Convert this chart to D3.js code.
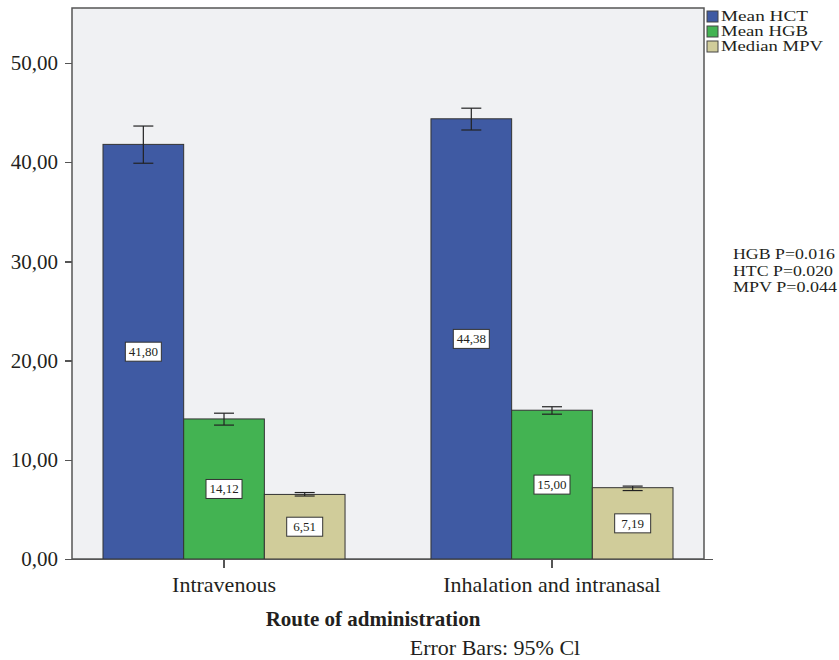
<!DOCTYPE html>
<html>
<head>
<meta charset="utf-8">
<title></title>
<script src="https://cdn.jsdelivr.net/npm/d3@7"></script>
<style>
  body { margin: 0; background: #fff; }
  svg text { font-family: "Liberation Serif", "DejaVu Serif", serif; fill: #231f20; }
  .axis path, .axis line { stroke: #555; shape-rendering: crispEdges; }
</style>
</head>
<body>
<script>
// data
var routes = ["Intravenous", "Inhalation and intranasal"];
var series = ["Mean HCT", "Mean HGB", "Median MPV"];
var colors = ["#3f5aa3", "#43b352", "#d0cc9a"];
var values = [[41.80, 14.12, 6.51], [44.38, 15.00, 7.19]];
var errLow = [[39.9, 13.5, 6.35], [43.25, 14.6, 6.9]];
var errHigh = [[43.65, 14.7, 6.7], [45.45, 15.35, 7.35]];
var yTicks = [0, 10, 20, 30, 40, 50];
var pNotes = ["HGB P=0.016", "HTC P=0.020", "MPV P=0.044"];

var width = 839, height = 660;
var plot = {left: 72, right: 704, top: 8, bottom: 559};
var serif = '"Liberation Serif", "DejaVu Serif", serif';

var svg = d3.select("body").append("svg")
    .attr("width", width)
    .attr("height", height);

// scales
var x0 = d3.scaleBand()
    .domain(routes)
    .range([plot.left, plot.right])
    .paddingInner(0.262)
    .paddingOuter(0.0945);
var x1 = d3.scaleBand()
    .domain(series)
    .range([0, x0.bandwidth()]);
var y = d3.scaleLinear()
    .domain([0, 55.55])
    .range([plot.bottom, plot.top]);

// background
svg.append("rect")
    .attr("x", plot.left).attr("y", plot.top)
    .attr("width", plot.right - plot.left)
    .attr("height", plot.bottom - plot.top)
    .attr("fill", "#f0f1f3")
    .attr("stroke", "#555")
    .attr("stroke-width", 1.5);

// bars
var groups = svg.selectAll(".grp")
    .data(routes)
    .enter().append("g")
    .attr("transform", function(d) { return "translate(" + x0(d) + ",0)"; });

groups.each(function(r, gi) {
    var g = d3.select(this);
    series.forEach(function(s, si) {
        var v = values[gi][si];
        var bx = x1(s);
        var cx = bx + x1.bandwidth() / 2;
        g.append("rect")
            .attr("x", bx).attr("y", y(v))
            .attr("width", x1.bandwidth())
            .attr("height", y(0) - y(v))
            .attr("fill", colors[si])
            .attr("stroke", "#333")
            .attr("stroke-width", 1);
        // error bar
        var cap = 10;
        g.append("line")
            .attr("x1", cx).attr("x2", cx)
            .attr("y1", y(errLow[gi][si])).attr("y2", y(errHigh[gi][si]))
            .attr("stroke", "#222").attr("stroke-width", 1.2);
        [errLow[gi][si], errHigh[gi][si]].forEach(function(e) {
            g.append("line")
                .attr("x1", cx - cap).attr("x2", cx + cap)
                .attr("y1", y(e)).attr("y2", y(e))
                .attr("stroke", "#222").attr("stroke-width", 1.2);
        });
        // value label
        var label = d3.format(".2f")(v).replace(".", ",");
        var ly = y(v / 2);
        g.append("rect")
            .attr("x", cx - 18).attr("y", ly - 9.5)
            .attr("width", 36).attr("height", 19)
            .attr("fill", "#fff")
            .attr("stroke", "#333").attr("stroke-width", 1);
        g.append("text")
            .attr("x", cx).attr("y", ly + 4.5)
            .attr("text-anchor", "middle")
            .style("font-size", "13px")
            .text(label);
    });
});

// y axis
svg.append("g")
    .attr("class", "axis")
    .attr("transform", "translate(" + plot.left + ",0)")
    .call(d3.axisLeft(y).tickValues(yTicks).tickSize(7).tickSizeOuter(0).tickPadding(7)
        .tickFormat(function(d) { return d3.format(".2f")(d).replace(".", ","); }))
    .call(function(g) {
        g.select(".domain").remove();
        g.selectAll("line").attr("stroke-width", 1.5);
        g.selectAll("text").style("font-family", serif).style("font-size", "21px").attr("fill", "#231f20");
    });

// x axis
svg.append("g")
    .attr("class", "axis")
    .attr("transform", "translate(0," + plot.bottom + ")")
    .call(d3.axisBottom(x0).tickSize(9).tickSizeOuter(0).tickPadding(8))
    .call(function(g) {
        g.select(".domain").attr("d", "M" + (plot.left - 7) + ",0.5H" + (plot.right + 9)).attr("stroke-width", 1.5);
        g.selectAll("line").attr("stroke-width", 1.5);
        g.selectAll("text").style("font-family", serif).style("font-size", "22px").attr("fill", "#231f20");
    });

// axis title
svg.append("text")
    .attr("x", 373).attr("y", 626)
    .attr("text-anchor", "middle")
    .style("font-size", "21px")
    .style("font-weight", "bold")
    .text("Route of administration");

svg.append("text")
    .attr("x", 495).attr("y", 655)
    .attr("text-anchor", "middle")
    .style("font-size", "22px")
    .text("Error Bars: 95% Cl");

// legend
var legend = svg.append("g").attr("transform", "translate(707,8)");
series.forEach(function(s, i) {
    legend.append("rect")
        .attr("x", 0).attr("y", i * 15 + 3)
        .attr("width", 11).attr("height", 11)
        .attr("fill", colors[i])
        .attr("stroke", "#444").attr("stroke-width", 1);
    legend.append("text")
        .attr("x", 14).attr("y", i * 15 + 13)
        .style("font-size", "14px")
        .attr("textLength", [87, 87, 102][i])
        .attr("lengthAdjust", "spacingAndGlyphs")
        .text(s);
});

// p-values
pNotes.forEach(function(t, i) {
    svg.append("text")
        .attr("x", 733).attr("y", 259 + i * 16.5)
        .style("font-size", "15px")
        .attr("textLength", [102, 100, 104][i])
        .attr("lengthAdjust", "spacingAndGlyphs")
        .text(t);
});
</script>
</body>
</html>
